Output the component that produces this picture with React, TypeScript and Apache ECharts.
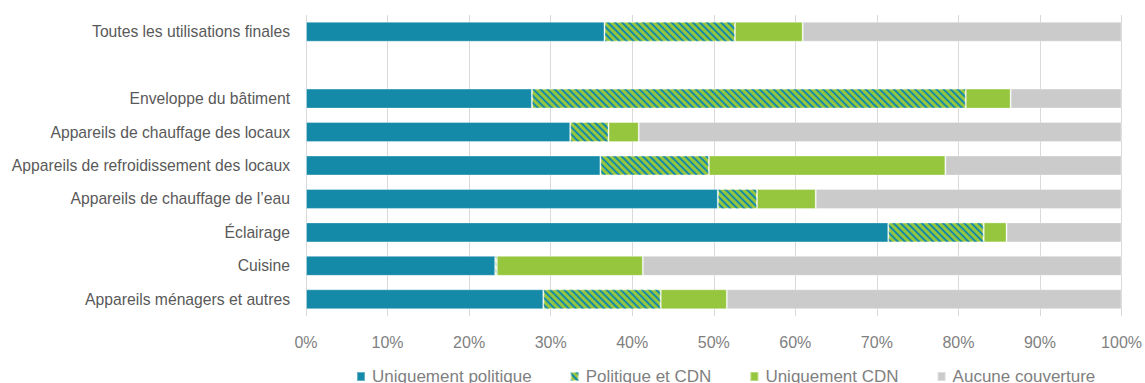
import React, { useEffect, useRef } from "react";
import * as echarts from "echarts";

const categories = [
  "Toutes les utilisations finales",
  "",
  "Enveloppe du bâtiment",
  "Appareils de chauffage des locaux",
  "Appareils de refroidissement des locaux",
  "Appareils de chauffage de l’eau",
  "Éclairage",
  "Cuisine",
  "Appareils ménagers et autres",
];

const uniquementPolitique = [36.6, null, 27.7, 32.4, 36.1, 50.5, 71.4, 23.2, 29.1];
const politiqueEtCDN = [16.0, null, 53.2, 4.7, 13.3, 4.8, 11.7, 0.2, 14.4];
const uniquementCDN = [8.3, null, 5.5, 3.7, 29.0, 7.2, 2.8, 17.9, 8.1];
const aucuneCouverture = [39.1, null, 13.6, 59.2, 21.6, 37.5, 14.1, 58.7, 48.4];

const xTicks = [0, 10, 20, 30, 40, 50, 60, 70, 80, 90, 100];

const BLUE = "#158AA8";
const GREEN = "#95C63D";
const GRAY = "#CBCBCB";
const FONT = "'Liberation Sans', Arial, sans-serif";

export default function App() {
  const ref = useRef<HTMLDivElement>(null);
  useEffect(() => {
    if (!ref.current) return;
    const chart = echarts.init(ref.current, undefined, { renderer: "svg" });
    const border = { borderColor: "rgba(255,255,255,0.35)", borderWidth: 1 };
    chart.setOption({
      animation: false,
      grid: { left: 306, right: 20, top: 15, bottom: 67, containLabel: false },
      xAxis: {
        type: "value",
        min: xTicks[0],
        max: xTicks[xTicks.length - 1],
        interval: 10,
        axisLine: { show: false },
        axisTick: { show: false },
        splitLine: { show: true, lineStyle: { color: "#D9D9D9", width: 1 } },
        axisLabel: {
          formatter: (v: number) => v + "%",
          color: "#7F7F7F",
          fontFamily: FONT,
          fontSize: 16,
          margin: 18,
        },
      },
      yAxis: {
        type: "category",
        data: categories,
        inverse: true,
        axisLine: { show: false },
        axisTick: { show: false },
        splitLine: { show: false },
        axisLabel: { color: "#595959", fontFamily: FONT, fontSize: 15.7, margin: 16 },
      },
      legend: {
        bottom: -7,
        left: 351,
        itemWidth: 8,
        itemHeight: 9,
        itemGap: 38,
        icon: "rect",
        textStyle: { color: "#7F7F7F", fontFamily: FONT, fontSize: 17, padding: [0, 0, 0, 2] },
        data: ["Uniquement politique", "Politique et CDN", "Uniquement CDN", "Aucune couverture"],
      },
      series: [
        {
          name: "Uniquement politique",
          type: "bar",
          stack: "t",
          barWidth: 20,
          data: uniquementPolitique,
          itemStyle: { color: BLUE, ...border },
        },
        {
          name: "Politique et CDN",
          type: "bar",
          stack: "t",
          barWidth: 20,
          data: politiqueEtCDN,
          itemStyle: {
            color: GREEN,
            ...border,
            decal: {
              symbol: "rect",
              color: BLUE,
              backgroundColor: GREEN,
              dashArrayX: [1, 0],
              dashArrayY: [2, 3],
              symbolSize: 1,
              rotation: Math.PI / 4,
            },
          },
        },
        {
          name: "Uniquement CDN",
          type: "bar",
          stack: "t",
          barWidth: 20,
          data: uniquementCDN,
          itemStyle: { color: GREEN, ...border },
        },
        {
          name: "Aucune couverture",
          type: "bar",
          stack: "t",
          barWidth: 20,
          data: aucuneCouverture,
          itemStyle: { color: GRAY, ...border },
        },
      ],
    });
    return () => chart.dispose();
  }, []);
  return <div ref={ref} style={{ width: 1145, height: 383, position: "absolute", left: 0, top: 0 }} />;
}
